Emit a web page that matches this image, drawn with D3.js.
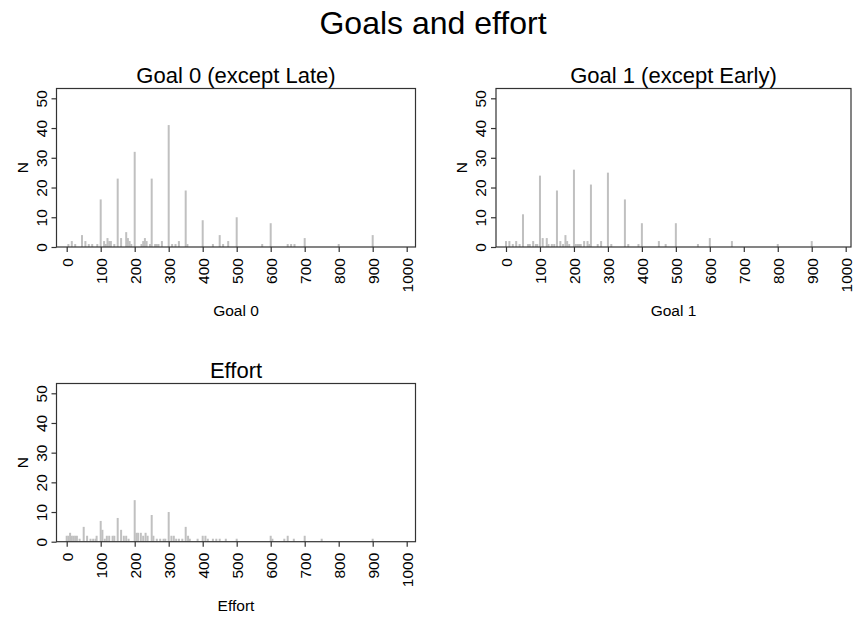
<!DOCTYPE html>
<html>
<head>
<meta charset="utf-8">
<script src="https://cdn.jsdelivr.net/npm/d3@7/dist/d3.min.js"></script>
<style>
  html, body { margin: 0; padding: 0; background: #fff; }
  svg { display: block; font-family: "Liberation Sans", Arial, sans-serif; }
</style>
</head>
<body>
<svg id="chart" width="857" height="620"></svg>
<script>
// Values observed (x) and how many respondents gave each (N)
const goal0Values = [5, 15, 25, 45, 55, 65, 75, 90, 100, 110, 115, 120, 125, 130, 140, 150, 160, 175, 180, 185, 190, 200, 220, 225, 230, 235, 245, 250, 260, 265, 270, 280, 300, 310, 320, 330, 350, 355, 400, 430, 450, 460, 475, 500, 575, 600, 650, 660, 670, 700, 800, 900];
const goal0Counts = [1, 2, 1, 4, 2, 1, 1, 1, 16, 2, 1, 3, 2, 2, 1, 23, 3, 5, 3, 2, 1, 32, 1, 2, 3, 2, 1, 23, 1, 1, 1, 2, 41, 1, 1, 2, 19, 1, 9, 1, 4, 1, 2, 10, 1, 8, 1, 1, 1, 3, 1, 4];

const goal1Values = [0, 10, 20, 30, 40, 50, 65, 70, 80, 88, 92, 100, 108, 120, 125, 135, 142, 150, 160, 168, 175, 180, 186, 200, 205, 210, 215, 220, 230, 240, 245, 250, 270, 280, 300, 310, 350, 360, 390, 400, 450, 470, 500, 565, 600, 665, 800, 900];
const goal1Counts = [2, 2, 1, 2, 1, 11, 1, 1, 2, 1, 1, 24, 3, 3, 1, 1, 1, 19, 2, 1, 4, 2, 1, 26, 1, 1, 1, 1, 2, 2, 1, 21, 1, 2, 25, 1, 16, 1, 1, 8, 2, 1, 8, 1, 3, 2, 1, 2];

const effortValues = [0, 5, 10, 15, 20, 25, 30, 38, 50, 60, 70, 78, 85, 88, 100, 105, 112, 118, 125, 135, 140, 150, 160, 168, 175, 182, 200, 205, 210, 218, 225, 232, 238, 250, 255, 265, 275, 285, 290, 300, 308, 315, 322, 330, 340, 350, 357, 362, 385, 400, 408, 415, 430, 440, 450, 468, 500, 600, 605, 640, 650, 668, 700, 750, 900];
const effortCounts = [2, 2, 3, 2, 2, 2, 2, 1, 5, 2, 1, 1, 1, 2, 7, 4, 1, 2, 2, 2, 2, 8, 4, 2, 2, 1, 14, 3, 3, 3, 2, 3, 2, 9, 2, 1, 1, 1, 1, 10, 2, 2, 1, 1, 1, 5, 2, 1, 1, 2, 2, 1, 1, 1, 1, 1, 1, 2, 1, 1, 2, 1, 2, 1, 1];

const xTicks = [0, 100, 200, 300, 400, 500, 600, 700, 800, 900, 1000];
const yTicks = [0, 10, 20, 30, 40, 50];

const mainTitle = "Goals and effort";
const panels = [
  { title: "Goal 0 (except Late)", xLabel: "Goal 0", values: goal0Values, counts: goal0Counts,
    box: { left: 56.5, right: 415.5, top: 88.5, bottom: 247 }, x0: 66.7, x1000: 406.7, y50: 98.3 },
  { title: "Goal 1 (except Early)", xLabel: "Goal 1", values: goal1Values, counts: goal1Counts,
    box: { left: 496, right: 851, top: 88.5, bottom: 247 }, x0: 506, x1000: 845.7, y50: 98.3 },
  { title: "Effort", xLabel: "Effort", values: effortValues, counts: effortCounts,
    box: { left: 56.5, right: 415.5, top: 383.5, bottom: 541.7 }, x0: 66.7, x1000: 406.7, y50: 393.3 }
];

const binWidth = 5;
const barColor = "#c0c0c0";
const axisColor = "#333";
const fontFamily = "Liberation Sans, Arial, sans-serif";

const svg = d3.select("#chart");

svg.append("text")
  .attr("x", 433).attr("y", 34)
  .attr("text-anchor", "middle")
  .attr("font-size", 32)
  .attr("fill", "#000")
  .text(mainTitle);

panels.forEach(p => {
  const b = p.box;
  // Scales anchored on the 0 and 1000 ticks
  const x = d3.scaleLinear().domain([0, 1000]).range([p.x0, p.x1000]);
  const y = d3.scaleLinear().domain([0, 50]).range([b.bottom, p.y50]);
  const g = svg.append("g");

  // Bars
  const data = p.values.map((v, i) => ({ v, n: p.counts[i] }));
  const w = Math.max(2, x(binWidth) - x(0) + 0.3);
  g.selectAll("rect.bar").data(data).enter().append("rect")
    .attr("class", "bar")
    .attr("x", d => x(d.v) - w / 2)
    .attr("width", w)
    .attr("y", d => y(d.n))
    .attr("height", d => y(0) - y(d.n))
    .attr("fill", barColor);

  // Frame
  g.append("rect")
    .attr("x", b.left).attr("y", b.top)
    .attr("width", b.right - b.left).attr("height", b.bottom - b.top)
    .attr("fill", "none").attr("stroke", axisColor).attr("stroke-width", 1.2);

  // X axis ticks and rotated labels
  const xAxis = d3.axisBottom(x).tickValues(xTicks).tickFormat(d3.format("d")).tickSize(5).tickPadding(0);
  const xa = g.append("g").attr("transform", `translate(0,${b.bottom})`).call(xAxis);
  xa.select(".domain").remove();
  xa.selectAll(".tick line").attr("stroke", axisColor).attr("stroke-width", 1.2);
  xa.selectAll(".tick text")
    .attr("font-size", 15.5).attr("fill", "#000")
    .attr("font-family", fontFamily)
    .attr("text-anchor", "end")
    .attr("transform", "translate(0,11) rotate(-90)")
    .attr("x", 0).attr("y", 0).attr("dy", "0.36em");

  // Y axis ticks and rotated labels
  const yAxis = d3.axisLeft(y).tickValues(yTicks).tickSize(5).tickPadding(0);
  const ya = g.append("g").attr("transform", `translate(${b.left},0)`).call(yAxis);
  ya.select(".domain").remove();
  ya.selectAll(".tick line").attr("stroke", axisColor).attr("stroke-width", 1.2);
  ya.selectAll(".tick text")
    .attr("font-size", 15.5).attr("fill", "#000")
    .attr("font-family", fontFamily)
    .attr("text-anchor", "middle")
    .attr("transform", "translate(-10,0) rotate(-90)")
    .attr("x", 0).attr("y", 0).attr("dy", "0");

  // Axis titles
  g.append("text")
    .attr("transform", `translate(${b.left - 29},${(b.top + b.bottom) / 2}) rotate(-90)`)
    .attr("text-anchor", "middle")
    .attr("font-size", 15.5).attr("fill", "#000")
    .text("N");

  g.append("text")
    .attr("x", (b.left + b.right) / 2).attr("y", b.bottom + 69)
    .attr("text-anchor", "middle")
    .attr("font-size", 15.5).attr("fill", "#000")
    .text(p.xLabel);

  // Panel title
  g.append("text")
    .attr("x", (b.left + b.right) / 2).attr("y", b.top - 6)
    .attr("text-anchor", "middle")
    .attr("font-size", 22).attr("fill", "#000")
    .text(p.title);
});
</script>
</body>
</html>
